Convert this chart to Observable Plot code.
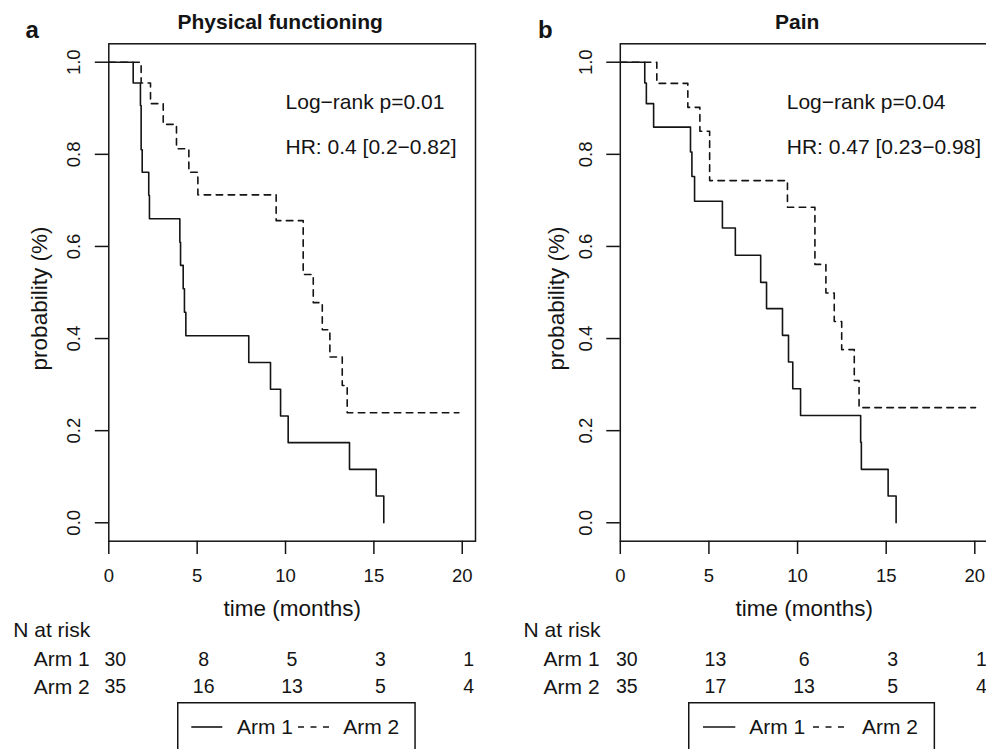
<!DOCTYPE html>
<html><head><meta charset="utf-8">
<script src="https://cdn.jsdelivr.net/npm/d3@7"></script>
<script src="https://cdn.jsdelivr.net/npm/@observablehq/plot@0.6"></script>
<style>
body{margin:0;background:#fff;}
#fig{position:relative;width:986px;height:749px;overflow:hidden;background:#fff;}
#fig svg{max-width:none !important;}
</style></head><body><div id="fig"></div>
<script>
// ---- data ----
const xTicks = [0, 5, 10, 15, 20];
const yTicks = [0, 0.2, 0.4, 0.6, 0.8, 1.0];
const riskTimes = [0, 5, 10, 15, 20];

// Panel a: Physical functioning
const pfArm1Time = [0, 1.38, 1.79, 1.83, 1.89, 2.26, 2.30, 4.02, 4.06, 4.21, 4.28, 4.36, 7.92, 9.15, 9.72, 10.15, 13.62, 15.13, 15.56];
const pfArm1Surv = [1, 0.955, 0.906, 0.810, 0.761, 0.711, 0.660, 0.609, 0.559, 0.508, 0.457, 0.406, 0.348, 0.290, 0.232, 0.174, 0.116, 0.058, 0];
const pfArm2Time = [0, 1.83, 2.36, 3.08, 3.83, 4.53, 5.04, 9.47, 11.00, 11.57, 12.08, 12.51, 13.21, 13.49, 19.81];
const pfArm2Surv = [1, 0.955, 0.910, 0.865, 0.812, 0.761, 0.712, 0.656, 0.539, 0.478, 0.419, 0.360, 0.298, 0.239, 0.239];
const pfRiskArm1 = [30, 8, 5, 3, 1];
const pfRiskArm2 = [35, 16, 13, 5, 4];
const pfAnnot = [
  {x: 10.0, y: 0.913, label: "Log\u2212rank p=0.01"},
  {x: 10.0, y: 0.816, label: "HR: 0.4 [0.2\u22120.82]"}
];

// Panel b: Pain
const painArm1Time = [0, 1.38, 1.47, 1.88, 3.96, 4.04, 4.19, 5.76, 6.49, 7.92, 8.25, 9.15, 9.49, 9.73, 10.17, 13.56, 13.60, 15.11, 15.56];
const painArm1Surv = [1, 0.955, 0.910, 0.859, 0.805, 0.752, 0.698, 0.640, 0.581, 0.522, 0.465, 0.407, 0.349, 0.291, 0.233, 0.175, 0.116, 0.058, 0];
const painArm2Time = [0, 2.06, 3.81, 4.49, 5.04, 9.43, 10.98, 11.60, 12.07, 12.49, 13.20, 13.47, 20.04];
const painArm2Surv = [1, 0.954, 0.902, 0.850, 0.743, 0.685, 0.561, 0.499, 0.437, 0.376, 0.309, 0.250, 0.250];
const painRiskArm1 = [30, 13, 6, 3, 1];
const painRiskArm2 = [35, 17, 13, 5, 4];
const painAnnot = [
  {x: 9.39, y: 0.913, label: "Log\u2212rank p=0.04"},
  {x: 9.39, y: 0.816, label: "HR: 0.47 [0.23\u22120.98]"}
];

const armLabels = ["Arm 1", "Arm 2"];

// ---- drawing ----
const FONT = '"Liberation Sans", Arial, Helvetica, sans-serif';
const INK = "#141414";
const fig = document.getElementById("fig");

function makePanel(p) {
  const a1 = p.t1.map((t, i) => ({t, s: p.s1[i]}));
  const a2 = p.t2.map((t, i) => ({t, s: p.s2[i]}));
  const chart = Plot.plot({
    width: p.width, height: 749,
    marginLeft: p.ml, marginRight: p.mr, marginTop: 43.3, marginBottom: 208.3,
    style: {fontFamily: FONT, color: INK, background: "white", maxWidth: "none", overflow: "hidden"},
    x: {domain: [0, 20.75]},
    y: {domain: [-0.04, 1.04]},
    marks: [
      Plot.frame({stroke: INK, strokeWidth: 1.5}),
      Plot.axisY({ticks: yTicks, tickSize: 13.5, tickFormat: () => "", label: null, stroke: INK, strokeWidth: 1.5}),
      Plot.text(yTicks, {y: d => d, text: d => d.toFixed(1), frameAnchor: "left", rotate: -90, dx: -34.5,
        textAnchor: "middle", lineAnchor: "middle", fontSize: 18.5, fill: INK}),
      Plot.axisX({ticks: xTicks, tickSize: 13.3, tickPadding: 14, fontSize: 18.5, label: null, stroke: INK, strokeWidth: 1.5}),
      Plot.text(["time (months)"], {text: d => d, frameAnchor: "bottom", dy: 67.6, lineAnchor: "middle", fontSize: 22.5, fill: INK}),
      Plot.text(["probability (%)"], {text: d => d, frameAnchor: "left", rotate: -90, dx: p.ylabDx, dy: 6,
        textAnchor: "middle", lineAnchor: "middle", fontSize: 22.5, fill: INK}),
      Plot.text([p.title], {text: d => d, frameAnchor: "top", dx: p.titleDx, dy: -22, lineAnchor: "middle",
        fontWeight: "bold", fontSize: 21, fill: INK}),
      Plot.text([p.letter], {text: d => d, frameAnchor: "top-left", dx: p.letterDx, dy: -13, textAnchor: "middle", lineAnchor: "middle",
        fontWeight: "bold", fontSize: 24, fill: INK}),
      Plot.text(p.annot, {x: "x", y: "y", text: "label", textAnchor: "start", lineAnchor: "middle", fontSize: 21, fill: INK}),
      Plot.line(a1, {x: "t", y: "s", curve: "step-after", stroke: INK, strokeWidth: 1.6}),
      Plot.line(a2, {x: "t", y: "s", curve: "step-after", stroke: INK, strokeWidth: 1.6, strokeDasharray: "6.5,5.5"}),
      // risk table
      Plot.text(["N at risk"], {text: d => d, frameAnchor: "bottom-left", dx: p.riskDx, dy: 88.8, textAnchor: "start", lineAnchor: "middle", fontSize: 21, fill: INK}),
      Plot.text([armLabels[0]], {text: d => d, frameAnchor: "bottom-left", dx: p.armDx, dy: 118.3, textAnchor: "end", lineAnchor: "middle", fontSize: 21, fill: INK}),
      Plot.text([armLabels[1]], {text: d => d, frameAnchor: "bottom-left", dx: p.armDx, dy: 145.6, textAnchor: "end", lineAnchor: "middle", fontSize: 21, fill: INK}),
      Plot.text(riskTimes, {x: d => d, text: (d, i) => String(p.r1[i]), frameAnchor: "bottom", dx: 6.5, dy: 118.6, lineAnchor: "middle", fontSize: 19.5, fill: INK}),
      Plot.text(riskTimes, {x: d => d, text: (d, i) => String(p.r2[i]), frameAnchor: "bottom", dx: 6.5, dy: 146, lineAnchor: "middle", fontSize: 19.5, fill: INK})
    ]
  });
  chart.style.position = "absolute";
  chart.style.left = p.left + "px";
  chart.style.top = "0px";
  fig.appendChild(chart);
}

function makeLegend(l) {
  const svg = d3.create("svg")
    .attr("width", l.w + 3).attr("height", 60)
    .style("position", "absolute").style("left", l.left + "px").style("top", "702.3px")
    .style("font-family", FONT);
  svg.append("rect").attr("x", 0.75).attr("y", 0.75).attr("width", l.w).attr("height", 100)
    .attr("fill", "white").attr("stroke", INK).attr("stroke-width", 1.5);
  svg.append("line").attr("x1", l.s1).attr("x2", l.s2).attr("y1", 25).attr("y2", 25)
    .attr("stroke", INK).attr("stroke-width", 1.6);
  svg.append("text").attr("x", l.t1).attr("y", 25).attr("dy", "0.35em").attr("font-size", 21).attr("fill", INK).text(armLabels[0]);
  svg.append("line").attr("x1", l.d1).attr("x2", l.d2).attr("y1", 25).attr("y2", 25)
    .attr("stroke", INK).attr("stroke-width", 1.6).attr("stroke-dasharray", "6,6.5");
  svg.append("text").attr("x", l.t2).attr("y", 25).attr("dy", "0.35em").attr("font-size", 21).attr("fill", INK).text(armLabels[1]);
  fig.appendChild(svg.node());
}

makePanel({left: 0, width: 493, ml: 108.3, mr: 18, t1: pfArm1Time, s1: pfArm1Surv, t2: pfArm2Time, s2: pfArm2Surv,
  r1: pfRiskArm1, r2: pfRiskArm2, annot: pfAnnot, title: "Physical functioning", letter: "a",
  titleDx: -12, letterDx: -76.6, ylabDx: -69, riskDx: -95.6, armDx: -19});
makePanel({left: 493, width: 496, ml: 126.8, mr: 1.4, t1: painArm1Time, s1: painArm1Surv, t2: painArm2Time, s2: painArm2Surv,
  r1: painRiskArm1, r2: painRiskArm2, annot: painAnnot, title: "Pain", letter: "b",
  titleDx: -7, letterDx: -75, ylabDx: -64, riskDx: -96.7, armDx: -20.7});

makeLegend({left: 176.7, w: 237.3, s1: 14.3, s2: 45.3, t1: 60, d1: 121, d2: 153, t2: 166.3});
makeLegend({left: 687.7, w: 245.6, s1: 15, s2: 47.3, t1: 61.3, d1: 125, d2: 157, t2: 174});
</script></body></html>
